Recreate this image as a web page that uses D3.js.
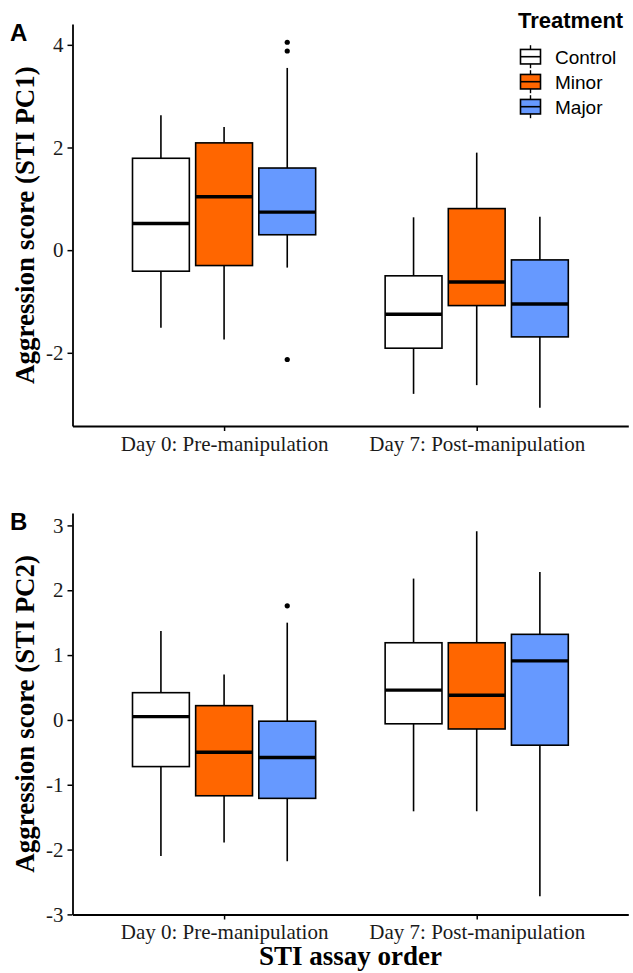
<!DOCTYPE html>
<html>
<head>
<meta charset="utf-8">
<script src="https://cdn.jsdelivr.net/npm/d3@7"></script>
<style>
  html, body { margin: 0; padding: 0; background: #fff; }
  svg { display: block; }
</style>
</head>
<body>
<svg id="chart" width="633" height="973"></svg>
<script>
// ---------- data ----------
const days = ["Day 0: Pre-manipulation", "Day 7: Post-manipulation"];
const treatments = ["Control", "Minor", "Major"];
const fillColors = ["#FFFFFF", "#FF6600", "#6699FF"];

// order per array: Day0 Control, Day0 Minor, Day0 Major, Day7 Control, Day7 Minor, Day7 Major
const pc1Low  = [-1.51, -1.74, -0.34, -2.80, -2.63, -3.07];
const pc1Q1   = [-0.41, -0.30,  0.30, -1.91, -1.08, -1.69];
const pc1Med  = [ 0.52,  1.04,  0.74, -1.25, -0.62, -1.05];
const pc1Q3   = [ 1.79,  2.09,  1.60, -0.50,  0.81, -0.19];
const pc1High = [ 2.63,  2.40,  3.55,  0.64,  1.90,  0.65];
const pc1OutDay   = [0, 0, 0];
const pc1OutGroup = [2, 2, 2];
const pc1OutValue = [4.05, 3.88, -2.13];

const pc2Low  = [-2.10, -1.89, -2.18, -1.41, -1.41, -2.72];
const pc2Q1   = [-0.72, -1.17, -1.21, -0.06, -0.14, -0.39];
const pc2Med  = [ 0.05, -0.50, -0.58,  0.46,  0.38,  0.91];
const pc2Q3   = [ 0.42,  0.22, -0.02,  1.19,  1.19,  1.32];
const pc2High = [ 1.37,  0.70,  1.50,  2.18,  2.91,  2.28];
const pc2OutDay   = [0];
const pc2OutGroup = [2];
const pc2OutValue = [1.76];

const pc1TickValues = [-2, 0, 2, 4];
const pc2TickValues = [-3, -2, -1, 0, 1, 2, 3];

// ---------- drawing ----------
const svg = d3.select("#chart");
const serif = "'Liberation Serif', 'Times New Roman', serif";
const sans = "'Liberation Sans', Arial, sans-serif";

function buildBoxes(low, q1, med, q3, high) {
  const out = [];
  days.forEach((d, di) => treatments.forEach((t, ti) => {
    const i = di * treatments.length + ti;
    out.push({ day: d, group: t, gi: ti, low: low[i], q1: q1[i], med: med[i], q3: q3[i], high: high[i] });
  }));
  return out;
}

function panel(opts) {
  const { top, bottom, left, right, boxes, outDay, outGroup, outValue, ticks, yTitle, letter, letterY } = opts;
  const g = svg.append("g");

  const allVals = boxes.flatMap(b => [b.low, b.high]).concat(outValue);
  const [mn, mx] = d3.extent(allVals);
  const pad = (mx - mn) * 0.05;
  const y = d3.scaleLinear().domain([mn - pad, mx + pad]).range([bottom, top]);

  const x = d3.scalePoint().domain(days).range([left, right]).padding(0.6);
  const step = x.step();
  const dodge = d3.scaleBand().domain(treatments).range([-0.375 * step, 0.375 * step]);
  const bw = dodge.bandwidth() * 0.9;
  const cx = b => x(b.day) + dodge(b.group) + dodge.bandwidth() / 2;

  // whiskers
  g.selectAll(".whisk").data(boxes).join("line")
    .attr("x1", cx).attr("x2", cx)
    .attr("y1", b => y(b.low)).attr("y2", b => y(b.high))
    .attr("stroke", "#000").attr("stroke-width", 1.6);

  // boxes
  g.selectAll(".box").data(boxes).join("rect")
    .attr("x", b => cx(b) - bw / 2).attr("width", bw)
    .attr("y", b => y(b.q3)).attr("height", b => y(b.q1) - y(b.q3))
    .attr("fill", b => fillColors[b.gi])
    .attr("stroke", "#000").attr("stroke-width", 1.6);

  // medians
  g.selectAll(".med").data(boxes).join("line")
    .attr("x1", b => cx(b) - bw / 2).attr("x2", b => cx(b) + bw / 2)
    .attr("y1", b => y(b.med)).attr("y2", b => y(b.med))
    .attr("stroke", "#000").attr("stroke-width", 3.4);

  // outliers
  const outs = outValue.map((v, i) => ({ day: days[outDay[i]], group: treatments[outGroup[i]], v }));
  g.selectAll(".out").data(outs).join("circle")
    .attr("cx", cx).attr("cy", o => y(o.v)).attr("r", 2.6).attr("fill", "#000");

  // axes
  const ya = g.append("g").attr("transform", `translate(${left},0)`)
    .call(d3.axisLeft(y).tickValues(ticks).tickSize(5).tickPadding(4).tickSizeOuter(0).tickFormat(d3.format("d")));
  const xa = g.append("g").attr("transform", `translate(0,${bottom})`)
    .call(d3.axisBottom(x).tickSize(5).tickPadding(5).tickSizeOuter(0));
  [ya, xa].forEach(a => {
    a.select(".domain").attr("stroke", "#000").attr("stroke-width", 1.8);
    a.selectAll(".tick line").attr("stroke", "#000").attr("stroke-width", 1.5);
    a.selectAll(".tick text").attr("fill", "#1a1a1a").style("font-family", serif).style("font-size", "21px");
  });
  ya.selectAll(".tick text").text(d => d < 0 ? "-" + Math.abs(d) : d);

  // y title
  g.append("text")
    .attr("transform", `translate(33.5,${(top + bottom) / 2}) rotate(-90)`)
    .attr("text-anchor", "middle")
    .style("font-family", serif).style("font-size", "27px").style("font-weight", "bold")
    .text(yTitle);

  // panel letter
  g.append("text").attr("x", 10).attr("y", letterY)
    .style("font-family", sans).style("font-size", "24px").style("font-weight", "bold")
    .text(letter);

  return { x };
}

const boxes1 = buildBoxes(pc1Low, pc1Q1, pc1Med, pc1Q3, pc1High);
const boxes2 = buildBoxes(pc2Low, pc2Q1, pc2Med, pc2Q3, pc2High);

const L = 72.5, R = 628.3;
panel({ top: 24, bottom: 426, left: L, right: R, boxes: boxes1,
  outDay: pc1OutDay, outGroup: pc1OutGroup, outValue: pc1OutValue,
  ticks: pc1TickValues, yTitle: "Aggression score (STI PC1)", letter: "A", letterY: 41 });
panel({ top: 513, bottom: 914.5, left: L, right: R, boxes: boxes2,
  outDay: pc2OutDay, outGroup: pc2OutGroup, outValue: pc2OutValue,
  ticks: pc2TickValues, yTitle: "Aggression score (STI PC2)", letter: "B", letterY: 530 });

// x title
svg.append("text").attr("x", (L + R) / 2).attr("y", 965).attr("text-anchor", "middle")
  .style("font-family", serif).style("font-size", "27px").style("font-weight", "bold")
  .text("STI assay order");

// legend
const lg = svg.append("g");
lg.append("text").attr("x", 518).attr("y", 28.3)
  .style("font-family", sans).style("font-size", "22px").style("font-weight", "bold")
  .text("Treatment");
const keyY = d3.scalePoint().domain(treatments).range([56.7, 106.7]);
const keyCx = 530.5, keyW = 20, keyH = 14.5;
treatments.forEach((t, i) => {
  const cy = keyY(t);
  lg.append("line").attr("x1", keyCx).attr("x2", keyCx).attr("y1", cy - 11.5).attr("y2", cy + 11.5)
    .attr("stroke", "#000").attr("stroke-width", 1.4);
  lg.append("rect").attr("x", keyCx - keyW / 2).attr("y", cy - keyH / 2).attr("width", keyW).attr("height", keyH)
    .attr("fill", fillColors[i]).attr("stroke", "#000").attr("stroke-width", 1.6);
  lg.append("line").attr("x1", keyCx - keyW / 2).attr("x2", keyCx + keyW / 2).attr("y1", cy).attr("y2", cy)
    .attr("stroke", "#000").attr("stroke-width", 1.6);
  lg.append("text").attr("x", 555).attr("y", cy + 7.3)
    .style("font-family", sans).style("font-size", "19px").attr("fill", "#000")
    .text(t);
});
</script>
</body>
</html>
